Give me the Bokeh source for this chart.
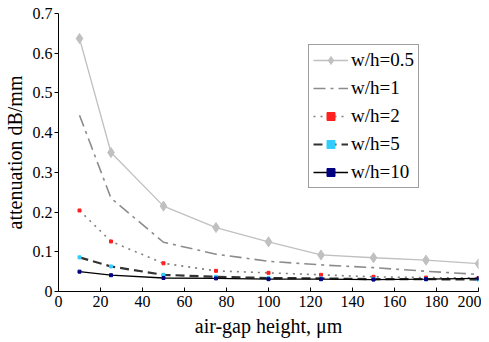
from bokeh.plotting import figure
from bokeh.models import Range1d, FixedTicker
from bokeh.embed import file_html
from bokeh.resources import INLINE

x = [10, 25, 50, 75, 100, 125, 150, 175, 200]
wh_05 = [0.637, 0.350, 0.215, 0.161, 0.125, 0.092, 0.085, 0.079, 0.070]
wh_1 = [0.444, 0.235, 0.124, 0.094, 0.076, 0.067, 0.060, 0.051, 0.043]
wh_2 = [0.204, 0.126, 0.071, 0.052, 0.047, 0.042, 0.037, 0.035, 0.034]
wh_5 = [0.086, 0.063, 0.042, 0.037, 0.034, 0.033, 0.031, 0.031, 0.030]
wh_10 = [0.050, 0.041, 0.034, 0.033, 0.031, 0.031, 0.030, 0.031, 0.033]

x_ticks = [0, 20, 40, 60, 80, 100, 120, 140, 160, 180, 200]
y_ticks = [0, 0.1, 0.2, 0.3, 0.4, 0.5, 0.6, 0.7]
y_labels = ["0", "0.1", "0.2", "0.3", "0.4", "0.5", "0.6", "0.7"]

FONT = "'Liberation Serif', serif"

p = figure(frame_width=420, frame_height=278, output_backend="svg", toolbar_location=None,
           x_range=Range1d(0, 200), y_range=Range1d(0, 0.7),
           min_border_left=50, min_border_right=3, min_border_top=13, min_border_bottom=35)
p.outline_line_color = None
p.grid.visible = False

# series
p.line(x, wh_05, line_color="#c0c0c0", line_width=1.3, legend_label="w/h=0.5")
p.scatter(x, wh_05, marker="diamond", size=10, fill_color="#c0c0c0", line_color="#c0c0c0",
          legend_label="w/h=0.5")

p.line(x, wh_1, line_color="#8c8c8c", line_width=1.6, line_dash="12 5 3 5", legend_label="w/h=1")

p.line(x, wh_2, line_color="#808080", line_width=1.6, line_dash="2 5", legend_label="w/h=2")
p.scatter(x, wh_2, marker="square", size=3, fill_color="#ff2020", line_color="#ff2020",
          legend_label="w/h=2")

p.line(x, wh_5, line_color="#333333", line_width=2.2, line_dash="9 5", legend_label="w/h=5")
p.scatter(x, wh_5, marker="square", size=3, fill_color="#33ccff", line_color="#33ccff",
          legend_label="w/h=5")

p.line(x, wh_10, line_color="#000000", line_width=1.3, legend_label="w/h=10")
p.scatter(x, wh_10, marker="square", size=3, fill_color="#000080", line_color="#000080",
          legend_label="w/h=10")

# axes
p.xaxis.ticker = FixedTicker(ticks=x_ticks)
p.yaxis.ticker = FixedTicker(ticks=y_ticks)
p.yaxis.major_label_overrides = {t: l for t, l in zip(y_ticks, y_labels)}
for ax in (p.xaxis[0], p.yaxis[0]):
    ax.minor_tick_line_color = None
    ax.axis_line_color = "#000000"
    ax.major_tick_line_color = "#000000"
    ax.major_label_text_font = FONT
    ax.major_label_text_font_size = "16px"
    ax.major_label_text_font_style = "normal"
    ax.major_label_text_color = "#000000"
    ax.axis_label_text_font = FONT
    ax.axis_label_text_font_size = "20px"
    ax.axis_label_text_font_style = "normal"
    ax.axis_label_text_color = "#000000"

p.xaxis.major_tick_in = 4
p.xaxis.major_tick_out = 0
p.xaxis.major_label_standoff = 4
p.xaxis.axis_label = "air-gap height, μm"
p.xaxis.axis_label_standoff = 5

p.yaxis.major_tick_in = 0
p.yaxis.major_tick_out = 4
p.yaxis.major_label_standoff = 2
p.yaxis.axis_label = "attenuation dB/mm"
p.yaxis.axis_label_standoff = 4

# legend
lg = p.legend[0]
lg.location = (250, 103)
lg.label_text_font = FONT
lg.label_text_font_size = "19px"
lg.label_text_color = "#000000"
lg.glyph_width = 35
lg.glyph_height = 20
lg.label_height = 20
lg.label_standoff = 3
lg.spacing = 6
lg.padding = 4
lg.margin = 0
lg.border_line_color = "#404040"
lg.border_line_width = 1.5
lg.background_fill_alpha = 1

open("out.html", "w").write(file_html(p, INLINE))
